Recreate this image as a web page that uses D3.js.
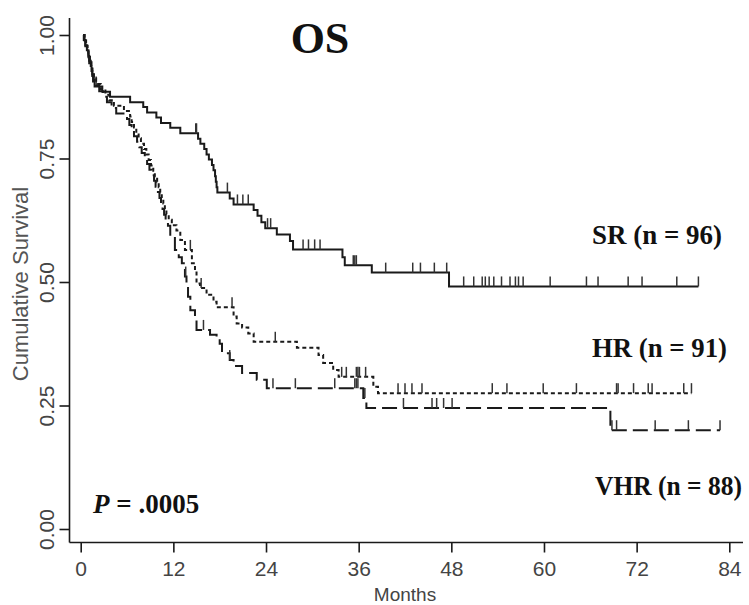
<!DOCTYPE html>
<html>
<head>
<meta charset="utf-8">
<script src="https://cdn.jsdelivr.net/npm/d3@7"></script>
<style>
  body { margin: 0; background: #fff; }
  svg { display: block; }
</style>
</head>
<body>
<svg id="chart" width="749" height="605"></svg>
<script>
// Axis ticks
const xTicks = [0, 12, 24, 36, 48, 60, 72, 84];
const yTicks = [0, 0.25, 0.5, 0.75, 1];

// Kaplan-Meier steps: [month, cumulative survival]
const srSteps = [[0.3,1.0],[0.4,0.99],[0.6,0.979],[0.8,0.969],[1.0,0.958],[1.1,0.948],[1.3,0.937],[1.4,0.927],[1.5,0.917],[1.6,0.906],[1.8,0.896],[2.8,0.885],[3.8,0.875],[6.4,0.864],[8.1,0.854],[8.6,0.843],[9.8,0.833],[10.4,0.822],[11.6,0.812],[12.9,0.801],[15.2,0.79],[15.5,0.78],[16.0,0.769],[16.3,0.758],[16.6,0.748],[17.0,0.737],[17.2,0.726],[17.4,0.714],[17.5,0.703],[17.6,0.692],[17.7,0.681],[19.3,0.669],[19.8,0.657],[22.4,0.646],[22.9,0.634],[23.4,0.621],[23.9,0.609],[25.4,0.596],[27.1,0.583],[27.5,0.566],[33.9,0.55],[34.2,0.534],[37.7,0.519],[47.7,0.491]];
const srEnd = 80.0;
const srCensored = [2.0,14.9,15.0,19.0,20.3,21.0,21.7,24.2,24.6,28.8,29.5,30.3,31.0,35.3,35.5,35.7,39.5,43.0,44.0,45.8,47.4,49.6,50.9,52.0,52.4,52.9,53.5,54.5,55.6,56.3,56.7,57.3,60.8,65.5,67.0,70.9,72.7,77.2,80.0];

const hrSteps = [[0.3,1.0],[0.5,0.989],[0.7,0.978],[0.9,0.967],[1.0,0.956],[1.2,0.945],[1.4,0.934],[1.5,0.923],[1.7,0.912],[2.0,0.901],[2.6,0.89],[3.2,0.879],[3.7,0.868],[4.3,0.857],[5.6,0.846],[6.4,0.835],[6.6,0.824],[6.9,0.813],[7.2,0.802],[7.5,0.791],[7.8,0.78],[8.2,0.769],[8.5,0.758],[8.8,0.747],[9.1,0.736],[9.4,0.725],[9.6,0.714],[9.9,0.703],[10.1,0.692],[10.3,0.681],[10.5,0.67],[10.7,0.659],[10.9,0.648],[11.1,0.637],[11.4,0.626],[11.8,0.615],[12.4,0.604],[12.9,0.585],[13.5,0.565],[14.4,0.538],[14.8,0.524],[15.0,0.497],[15.45,0.488],[16.3,0.474],[17.2,0.46],[17.6,0.449],[19.8,0.43],[20.2,0.416],[20.9,0.408],[21.7,0.396],[22.4,0.379],[28.0,0.367],[30.8,0.352],[31.4,0.336],[32.7,0.322],[33.4,0.308],[37.9,0.288],[38.5,0.275]];
const hrEnd = 79.1;
const hrCensored = [14.2,15.6,19.6,25.2,33.8,34.4,35.7,35.9,36.1,36.9,41.1,42.0,42.9,44.2,53.3,55.2,59.9,64.2,69.4,69.6,71.6,73.5,74.0,78.1,79.1];

const vhrSteps = [[0.3,1.0],[0.5,0.989],[0.6,0.977],[0.8,0.966],[1.0,0.955],[1.1,0.943],[1.3,0.932],[1.5,0.92],[1.7,0.909],[2.0,0.898],[2.4,0.886],[2.9,0.875],[3.4,0.864],[4.0,0.852],[4.6,0.841],[6.0,0.83],[6.3,0.818],[6.6,0.807],[6.9,0.795],[7.3,0.784],[7.6,0.773],[7.9,0.761],[8.3,0.75],[8.6,0.739],[8.9,0.727],[9.2,0.716],[9.5,0.705],[9.7,0.693],[10.0,0.682],[10.2,0.67],[10.4,0.659],[10.6,0.648],[10.8,0.636],[11.0,0.625],[11.3,0.614],[11.6,0.592],[12.2,0.565],[12.7,0.55],[13.1,0.538],[13.5,0.511],[13.7,0.49],[13.9,0.47],[14.2,0.443],[14.8,0.423],[15.0,0.403],[16.75,0.393],[17.6,0.386],[18.0,0.375],[18.3,0.356],[19.3,0.342],[19.8,0.33],[20.9,0.316],[22.8,0.302],[24.1,0.285],[36.6,0.265],[37.0,0.245],[68.6,0.2]];
const vhrEnd = 82.8;
const vhrCensored = [13.6,15.9,19.3,24.9,27.8,32.9,35.5,35.7,35.9,36.8,41.8,45.5,46.1,47.0,48.1,68.8,69.4,74.4,78.7,82.8];

const groupLabels = ["SR (n = 96)", "HR (n = 91)", "VHR (n = 88)"];
const pValue = ".0005";

const svg = d3.select("#chart");
const x = d3.scaleLinear().domain([0, 84]).range([80.7, 729.3]);
const y = d3.scaleLinear().domain([0, 1]).range([529, 35]);
const axisLeftX = 69.5, axisBottomY = 542.5;
const ink = "#1a1a1a";

// Axes
svg.append("line").attr("x1", axisLeftX).attr("x2", axisLeftX)
  .attr("y1", 18).attr("y2", axisBottomY)
  .attr("stroke", ink).attr("stroke-width", 1.6);
svg.append("line").attr("x1", axisLeftX).attr("x2", 743)
  .attr("y1", axisBottomY).attr("y2", axisBottomY)
  .attr("stroke", ink).attr("stroke-width", 1.6);

const yAxis = d3.axisLeft(y).tickValues(yTicks).tickFormat(d3.format(".2f")).tickSize(10).tickSizeOuter(0);
const gy = svg.append("g").attr("transform", `translate(${axisLeftX},0)`).call(yAxis);
gy.select(".domain").remove();
gy.selectAll(".tick line").attr("stroke", ink).attr("stroke-width", 1.6);
gy.selectAll(".tick text")
  .attr("x", null).attr("dy", null).attr("fill", "#444")
  .attr("transform", "translate(-16,0) rotate(-90)")
  .attr("text-anchor", "middle")
  .style("font", "21px 'Liberation Sans', Arial, sans-serif");

const xAxis = d3.axisBottom(x).tickValues(xTicks).tickFormat(d3.format("d")).tickSize(10).tickSizeOuter(0);
const gx = svg.append("g").attr("transform", `translate(0,${axisBottomY})`).call(xAxis);
gx.select(".domain").remove();
gx.selectAll(".tick line").attr("stroke", ink).attr("stroke-width", 1.6);
gx.selectAll(".tick text")
  .attr("y", 33).attr("dy", null).attr("fill", "#444")
  .style("font", "21px 'Liberation Sans', Arial, sans-serif");

// Axis titles
svg.append("text").attr("x", 405).attr("y", 601).attr("text-anchor", "middle")
  .attr("fill", "#444").style("font", "19px 'Liberation Sans', Arial, sans-serif")
  .text("Months");
svg.append("text").attr("transform", "translate(28,284) rotate(-90)").attr("text-anchor", "middle")
  .attr("fill", "#555").style("font", "22px 'Liberation Sans', Arial, sans-serif")
  .text("Cumulative Survival");

// Title
svg.append("text").attr("x", 320).attr("y", 53).attr("text-anchor", "middle")
  .attr("fill", "#111").style("font", "bold 44px 'Liberation Serif', 'Times New Roman', serif")
  .text("OS");

// Survival curves
const series = [
  { steps: srSteps, end: srEnd, censored: srCensored, dash: null },
  { steps: hrSteps, end: hrEnd, censored: hrCensored, dash: "4,3" },
  { steps: vhrSteps, end: vhrEnd, censored: vhrCensored, dash: "15,6" }
];

const line = d3.line().x(d => x(d[0])).y(d => y(d[1])).curve(d3.curveStepAfter);
const bisect = d3.bisector(d => d[0]).right;

series.forEach(s => {
  const pts = s.steps.concat([[s.end, s.steps[s.steps.length - 1][1]]]);
  svg.append("path").datum(pts).attr("d", line)
    .attr("fill", "none").attr("stroke", ink).attr("stroke-width", 2)
    .attr("stroke-dasharray", s.dash);
  const survAt = t => s.steps[Math.max(0, bisect(s.steps, t) - 1)][1];
  svg.append("g").selectAll("line").data(s.censored).join("line")
    .attr("x1", d => x(d)).attr("x2", d => x(d))
    .attr("y1", d => y(survAt(d))).attr("y2", d => y(survAt(d)) - 10)
    .attr("stroke", "#333").attr("stroke-width", 1.5);
});

// Group labels, each squeezed horizontally to its set width
const labelPos = [
  { x: 592, y: 244, w: 130 },
  { x: 592, y: 356.5, w: 135 },
  { x: 595, y: 495, w: 147 }
];
svg.append("g").selectAll("text").data(groupLabels).join("text")
  .attr("fill", "#111")
  .style("font", "bold 27px 'Liberation Serif', 'Times New Roman', serif")
  .text(d => d)
  .each(function(d, i) {
    const p = labelPos[i];
    const k = Math.min(1, p.w / this.getComputedTextLength());
    d3.select(this).attr("transform", `translate(${p.x},${p.y}) scale(${k},1)`);
  });

// Log-rank p-value
const pt = svg.append("text").attr("x", 93).attr("y", 513).attr("fill", "#111")
  .style("font", "bold 27px 'Liberation Serif', 'Times New Roman', serif");
pt.append("tspan").style("font-style", "italic").text("P");
pt.append("tspan").text(" = " + pValue);
</script>
</body>
</html>
